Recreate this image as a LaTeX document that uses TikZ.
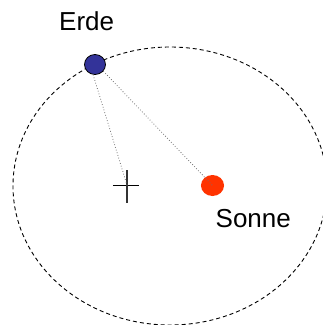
\documentclass[tikz,border=0pt]{standalone}
\usepackage{fontspec}
\setmainfont{Liberation Sans}
\definecolor{earthblue}{HTML}{333399}
\definecolor{sunred}{HTML}{FF3300}
\begin{document}
\begin{tikzpicture}[x=1pt,y=-1pt,
  lbl/.style={anchor=base west,inner sep=0pt,font=\fontsize{26}{30}\selectfont},
  orbit/.style={draw=black,line width=0.9pt,dash pattern=on 4pt off 3pt},
  ray/.style={draw=black!55,line width=0.8pt,dotted},
  body/.style={ellipse,inner sep=0pt}]
\useasboundingbox (0,0) rectangle (323,325);
\draw[orbit] (170,186) ellipse [x radius=157, y radius=139];
\coordinate (cross) at (127,185);
\draw[line width=0.9pt] (113,185) -- (139,185);
\draw[line width=1.1pt,black!80] (127,170) -- (127,203);
\node[circle,fill=sunred,minimum width=21pt,minimum height=19pt,inner sep=0pt,
  xscale=1.1] (sun) at (212.5,185.5) {};
\node[draw=black,line width=0.8pt,fill=earthblue,circle,minimum size=20pt,
  inner sep=0pt,xscale=1.05] (earth) at (95,64.5) {};
\draw[ray] (earth.-100) -- (cross);
\draw[ray] (earth.-40) -- (sun.center);
\node[lbl] (erde) at (59,30) {Erde};
\node[lbl] (sonne) at (215.5,227) {Sonne};
\end{tikzpicture}
\end{document}
